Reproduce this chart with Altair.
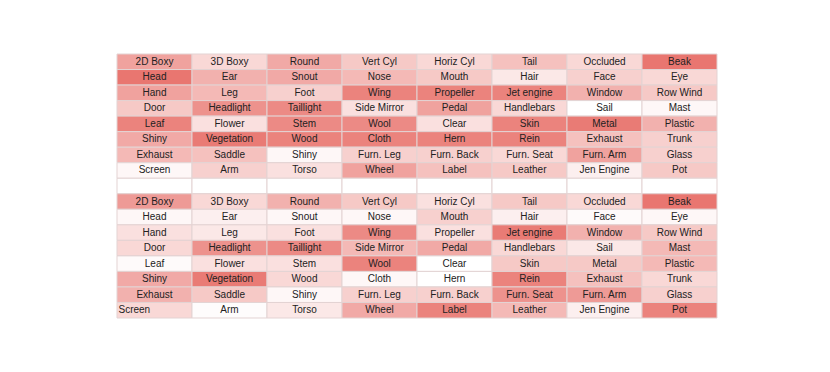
import altair as alt
import pandas as pd

names_top = [
    ["2D Boxy", "3D Boxy", "Round", "Vert Cyl", "Horiz Cyl", "Tail", "Occluded", "Beak"],
    ["Head", "Ear", "Snout", "Nose", "Mouth", "Hair", "Face", "Eye"],
    ["Hand", "Leg", "Foot", "Wing", "Propeller", "Jet engine", "Window", "Row Wind"],
    ["Door", "Headlight", "Taillight", "Side Mirror", "Pedal", "Handlebars", "Sail", "Mast"],
    ["Leaf", "Flower", "Stem", "Wool", "Clear", "Skin", "Metal", "Plastic"],
    ["Shiny", "Vegetation", "Wood", "Cloth", "Hern", "Rein", "Exhaust", "Trunk"],
    ["Exhaust", "Saddle", "Shiny", "Furn. Leg", "Furn. Back", "Furn. Seat", "Furn. Arm", "Glass"],
    ["Screen", "Arm", "Torso", "Wheel", "Label", "Leather", "Jen Engine", "Pot"],
]
names_bottom = names_top

values_top = [
    [0.60, 0.25, 0.55, 0.35, 0.25, 0.40, 0.25, 0.88],
    [0.88, 0.50, 0.55, 0.45, 0.35, 0.15, 0.30, 0.25],
    [0.60, 0.45, 0.30, 0.80, 0.80, 0.80, 0.50, 0.35],
    [0.35, 0.70, 0.75, 0.20, 0.60, 0.25, 0.00, 0.05],
    [0.80, 0.20, 0.75, 0.75, 0.20, 0.80, 0.85, 0.50],
    [0.55, 0.85, 0.80, 0.80, 0.80, 0.80, 0.40, 0.30],
    [0.45, 0.40, 0.05, 0.30, 0.30, 0.25, 0.60, 0.30],
    [0.05, 0.30, 0.20, 0.60, 0.40, 0.35, 0.10, 0.35],
]
values_bottom = [
    [0.65, 0.25, 0.50, 0.35, 0.20, 0.35, 0.25, 0.88],
    [0.05, 0.10, 0.05, 0.05, 0.30, 0.10, 0.03, 0.05],
    [0.20, 0.15, 0.20, 0.75, 0.20, 0.85, 0.50, 0.35],
    [0.25, 0.70, 0.75, 0.45, 0.55, 0.25, 0.15, 0.45],
    [0.03, 0.20, 0.20, 0.80, 0.00, 0.35, 0.35, 0.45],
    [0.55, 0.85, 0.25, 0.05, 0.00, 0.80, 0.40, 0.25],
    [0.50, 0.35, 0.05, 0.30, 0.30, 0.70, 0.65, 0.30],
    [0.25, 0.02, 0.15, 0.55, 0.80, 0.45, 0.10, 0.80],
]

rows = []
for r in range(8):
    for c in range(8):
        rows.append({"row": r, "col": c, "name": names_top[r][c], "v": values_top[r][c], "left": False})
for c in range(8):
    rows.append({"row": 8, "col": c, "name": "", "v": 0.0, "left": False})
for r in range(8):
    for c in range(8):
        rows.append({"row": 9 + r, "col": c, "name": names_bottom[r][c], "v": values_bottom[r][c],
                     "left": (r == 7 and c == 0)})
df = pd.DataFrame(rows)

x = alt.X("col:O", axis=None, scale=alt.Scale(paddingInner=0, paddingOuter=0))
y = alt.Y("row:O", axis=None, scale=alt.Scale(paddingInner=0, paddingOuter=0))

base = alt.Chart(df)
rects = base.mark_rect(stroke="#e3d3d3", strokeWidth=1, opacity=1).encode(
    x=x, y=y,
    color=alt.Color("v:Q", legend=None,
                    scale=alt.Scale(type="linear", domain=[0, 0.9], range=["#ffffff", "#e8736d"],
                                    interpolate="rgb", clamp=True, nice=False, zero=False)),
)
texts = base.transform_filter("!datum.left").mark_text(
    font="Liberation Sans", fontSize=10, color="#222222"
).encode(x=x, y=y, text="name:N")
texts_left = base.transform_filter("datum.left").mark_text(
    font="Liberation Sans", fontSize=10, color="#222222", align="left", dx=-36
).encode(x=x, y=y, text="name:N")

chart = alt.layer(rects, texts, texts_left).properties(
    width=600, height=264,
    padding={"left": 108, "top": 45, "right": 5, "bottom": 5},
).configure_view(stroke=None)

chart.save("out.html", embed_options={"renderer": "svg", "actions": False})
